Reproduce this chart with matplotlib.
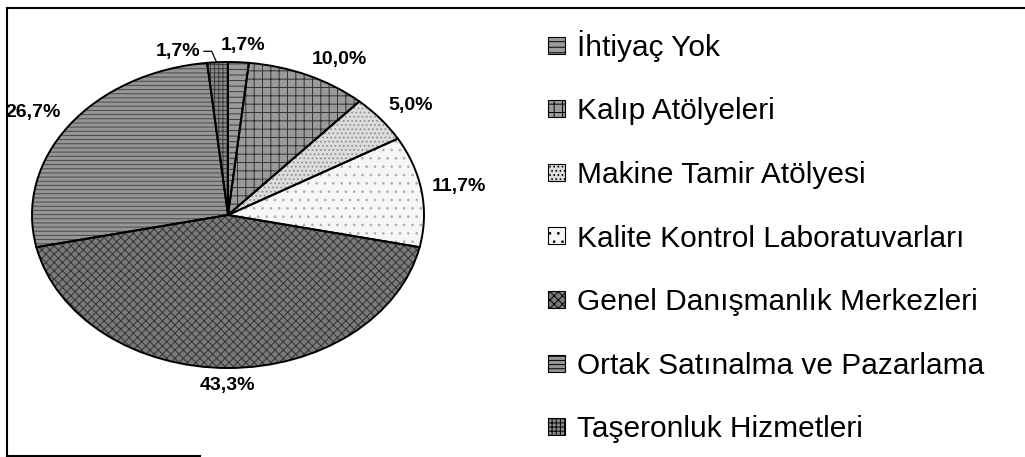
import numpy as np
import matplotlib
matplotlib.use("Agg")
import matplotlib.pyplot as plt
from matplotlib.lines import Line2D
from matplotlib.patches import Patch

plt.rcParams['font.family'] = ['Liberation Sans', 'DejaVu Sans']
plt.rcParams['hatch.linewidth'] = 0.7

# data
labels = ['İhtiyaç Yok', 'Kalıp Atölyeleri', 'Makine Tamir Atölyesi',
          'Kalite Kontrol Laboratuvarları', 'Genel Danışmanlık Merkezleri',
          'Ortak Satınalma ve Pazarlama', 'Taşeronluk Hizmetleri']
values = [1.7, 10.0, 5.0, 11.7, 43.3, 26.7, 1.7]
pct_text = ['1,7%', '10,0%', '5,0%', '11,7%', '43,3%', '26,7%', '1,7%']

# grey "dither" look: face colour + hatch
face = ['#9c9c9c', '#9a9a9a', '#dcdcdc', '#f6f6f6', '#7a7a7a', '#959595', '#8a8a8a']
hatches = ['---', '++', '....', '..', 'xxxx', '----', '++++']
hatch_col = ['#3a3a3a', '#333333', '#8a8a8a', '#b0b0b0', '#333333', '#4a4a4a', '#3a3a3a']

W, H = 1025, 457
fig = plt.figure(figsize=(W / 100, H / 100), dpi=100)

# pie is drawn as an ellipse: center (228,215) px, radii 196 x 153 px
cx, cy, rx, ry = 228, 215, 196, 153
lim = 1.4
ax = fig.add_axes([(cx - lim * rx) / W, 1 - (cy + lim * ry) / H,
                   2 * lim * rx / W, 2 * lim * ry / H])

wedges, _ = ax.pie(values, startangle=90, counterclock=False, colors=face,
                   hatch=hatches, wedgeprops=dict(linewidth=0))
for w, hc in zip(wedges, hatch_col):
    w.set_edgecolor(hc)

# black outlines on top
outl, _ = ax.pie(values, startangle=90, counterclock=False,
                 wedgeprops=dict(fill=False, edgecolor='black', linewidth=1.4))

ax.set_aspect('auto')
ax.set_xlim(-lim, lim)
ax.set_ylim(-lim, lim)
ax.axis('off')

# percentage labels, placed a few pixels outside the rim like Excel does
renderer = fig.canvas.get_renderer()
gap = 10
for i, w in enumerate(wedges):
    mid = np.deg2rad((w.theta1 + w.theta2) / 2)
    ex, ey = np.cos(mid), np.sin(mid)
    if i == len(wedges) - 1:
        # small slice next to the first one: label pushed left with leader
        tx, ty = ex - 0.2, 1.07
        ax.plot([tx + 0.13, ex - 0.03, ex - 0.005], [ty, ty, ey],
                color='black', lw=0.9)
        ax.text(tx, ty, pct_text[i], ha='center', va='center', fontsize=14,
                fontweight='bold')
        continue
    t = ax.text(ex, ey, pct_text[i], ha='center', va='center', fontsize=14,
                fontweight='bold')
    bb = t.get_window_extent(renderer)
    hw, hh = bb.width / 2, 7
    dx = gap * ex + hw * np.clip(ex * 3.3, -1, 1)
    dy = gap * ey + hh * np.clip(ey * 3.3, -1, 1)
    t.set_position((ex + dx / rx, ey + dy / ry))

# legend
handles = [Patch(facecolor=f, hatch=h, edgecolor='black', linewidth=0.8)
           for f, h in zip(face, hatches)]
fig.legend(handles, labels, loc='upper left', bbox_to_anchor=(536 / W, 1 - 18 / H),
           frameon=False, fontsize=21.5, handlelength=0.58, handleheight=0.5,
           handletextpad=0.4, labelspacing=1.19, borderaxespad=0)

# outer frame (top, left, bottom)
fig.add_artist(Line2D([7 / W, 1], [1 - 8 / H] * 2, transform=fig.transFigure,
                      color='black', lw=1.5))
fig.add_artist(Line2D([7 / W] * 2, [1 - 8 / H, 1 / H], transform=fig.transFigure,
                      color='black', lw=1.5))
fig.add_artist(Line2D([7 / W, 200 / W], [1 / H] * 2, transform=fig.transFigure,
                      color='black', lw=1.5))

fig.savefig('out.png', dpi=100)
